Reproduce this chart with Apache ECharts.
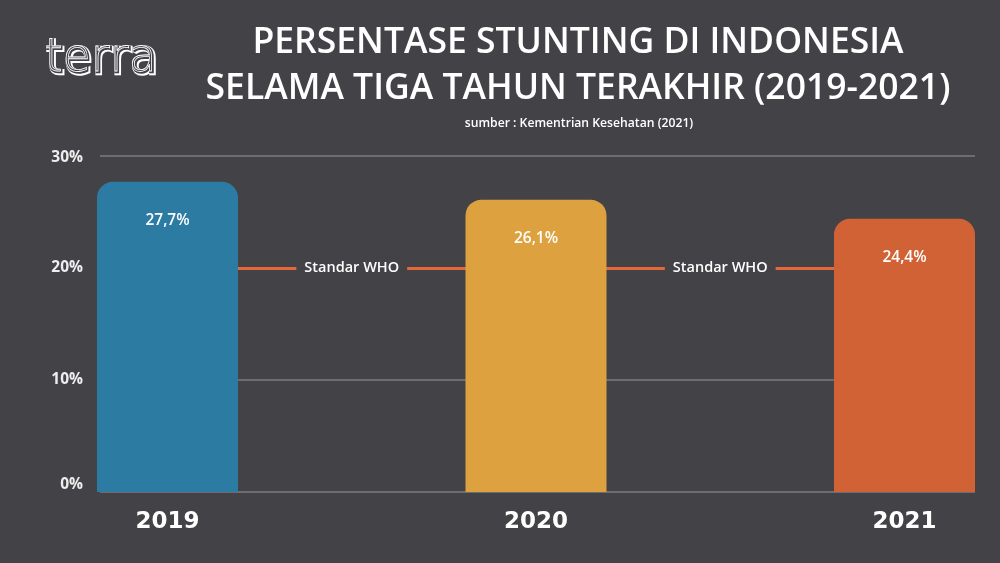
<!DOCTYPE html>
<html><head><meta charset="utf-8">
<script src="https://cdn.jsdelivr.net/npm/echarts@6/dist/echarts.min.js"></script>
<style>html,body{margin:0;padding:0;background:#434247;}#c{width:1000px;height:563px;}</style>
</head><body><div id="c"></div>
<script>
const categories = ['2019', '2020', '2021'];
const values = [27.7, 26.1, 24.4];
const barColors = ['#2b7ba2', '#dda23f', '#d16236'];
const whoStandard = 20;
const whoLabel = 'Standar WHO';
const yMin = 0, yMax = 30, yStep = 10;
const titleText = 'PERSENTASE STUNTING DI INDONESIA\nSELAMA TIGA TAHUN TERAKHIR (2019-2021)';
const subText = 'sumber : Kementrian Kesehatan (2021)';
const logoText = 'terra';

const bg = '#434247';
const font = '"Open Sans", sans-serif';
const chart = echarts.init(document.getElementById('c'));
chart.setOption({
  backgroundColor: bg,
  animation: false,
  title: [
    { text: titleText, left: 573, top: 15, textAlign: 'center',
      textStyle: { color: '#ffffff', fontFamily: font, fontWeight: 600, fontSize: 35.5, lineHeight: 46 } },
    { text: subText, left: 574, top: 113, textAlign: 'center',
      textStyle: { color: '#ffffff', fontFamily: font, fontWeight: 600, fontSize: 12.2 } }
  ],
  graphic: [
    { type: 'text', left: 44, top: 36, z: 10,
      style: { text: logoText, font: '300 46px "DejaVu Sans"', fill: 'none', stroke: '#ffffff', lineWidth: 4.5 } },
    { type: 'text', left: 44, top: 36, z: 11,
      style: { text: logoText, font: '300 46px "DejaVu Sans"', fill: bg, stroke: bg, lineWidth: 2.6 } },
    { type: 'text', left: 44, top: 36, z: 12,
      style: { text: logoText, font: '300 46px "DejaVu Sans"', fill: 'none', stroke: '#ffffff', lineWidth: 0.8 } }
  ],
  grid: [
    { left: 167.5, right: 95.5, top: 156, bottom: 71 },
    { left: 100, right: 25, top: 156, bottom: 71 }
  ],
  xAxis: [
    { type: 'category', gridIndex: 0, data: categories, boundaryGap: false,
      axisLine: { show: false }, axisTick: { show: false }, splitLine: { show: false },
      axisLabel: { color: '#ffffff', fontFamily: '"DejaVu Sans", sans-serif', fontWeight: 700, fontSize: 23, margin: 19 } },
    { type: 'value', gridIndex: 1, min: 0, max: 1, show: false }
  ],
  yAxis: [
    { type: 'value', gridIndex: 0, min: yMin, max: yMax, interval: yStep, show: false },
    { type: 'value', gridIndex: 1, min: yMin, max: yMax, interval: yStep,
      axisLine: { show: false }, axisTick: { show: false },
      axisLabel: { color: '#eeeeee', fontFamily: font, fontWeight: 700, fontSize: 15.5, margin: 17,
        formatter: v => v === yMin ? '{z|' + v + '%}' : v === yMax ? '{t|' + v + '%}' : v + '%',
        rich: {
          z: { color: '#eeeeee', fontFamily: font, fontWeight: 700, fontSize: 15.5, padding: [0, 0, 14, 0] },
          t: { color: '#eeeeee', fontFamily: font, fontWeight: 700, fontSize: 15.5, padding: [4, 0, 0, 0] }
        } },
      splitLine: { show: true, lineStyle: { color: ['#6d6c71', '#6d6c71', 'rgba(0,0,0,0)', '#6d6c71'], width: 2 } } }
  ],
  series: [{
    type: 'bar', xAxisIndex: 0, yAxisIndex: 0, z: 3, clip: false,
    barWidth: 141,
    data: values.map((v, i) => ({ value: v, itemStyle: { color: barColors[i] } })),
    itemStyle: { borderRadius: [16, 16, 0, 0] },
    label: { show: true, position: 'insideTop', distance: 31, color: '#ffffff',
      fontFamily: font, fontWeight: 600, fontSize: 15.5,
      formatter: p => String(p.value).replace('.', ',') + '%' },
    markLine: {
      z: 1, silent: true, symbol: ['none', 'none'],
      lineStyle: { color: '#e2683a', width: 3, type: 'solid' },
      label: { show: true, position: 'middle', distance: 0, verticalAlign: 'middle', formatter: whoLabel, color: '#ffffff',
        fontFamily: font, fontWeight: 600, fontSize: 14.5, backgroundColor: bg, padding: [3, 8] },
      data: [
        [{ coord: [0, whoStandard] }, { coord: [1, whoStandard] }],
        [{ coord: [1, whoStandard] }, { coord: [2, whoStandard] }]
      ]
    }
  }]
});
</script></body></html>
